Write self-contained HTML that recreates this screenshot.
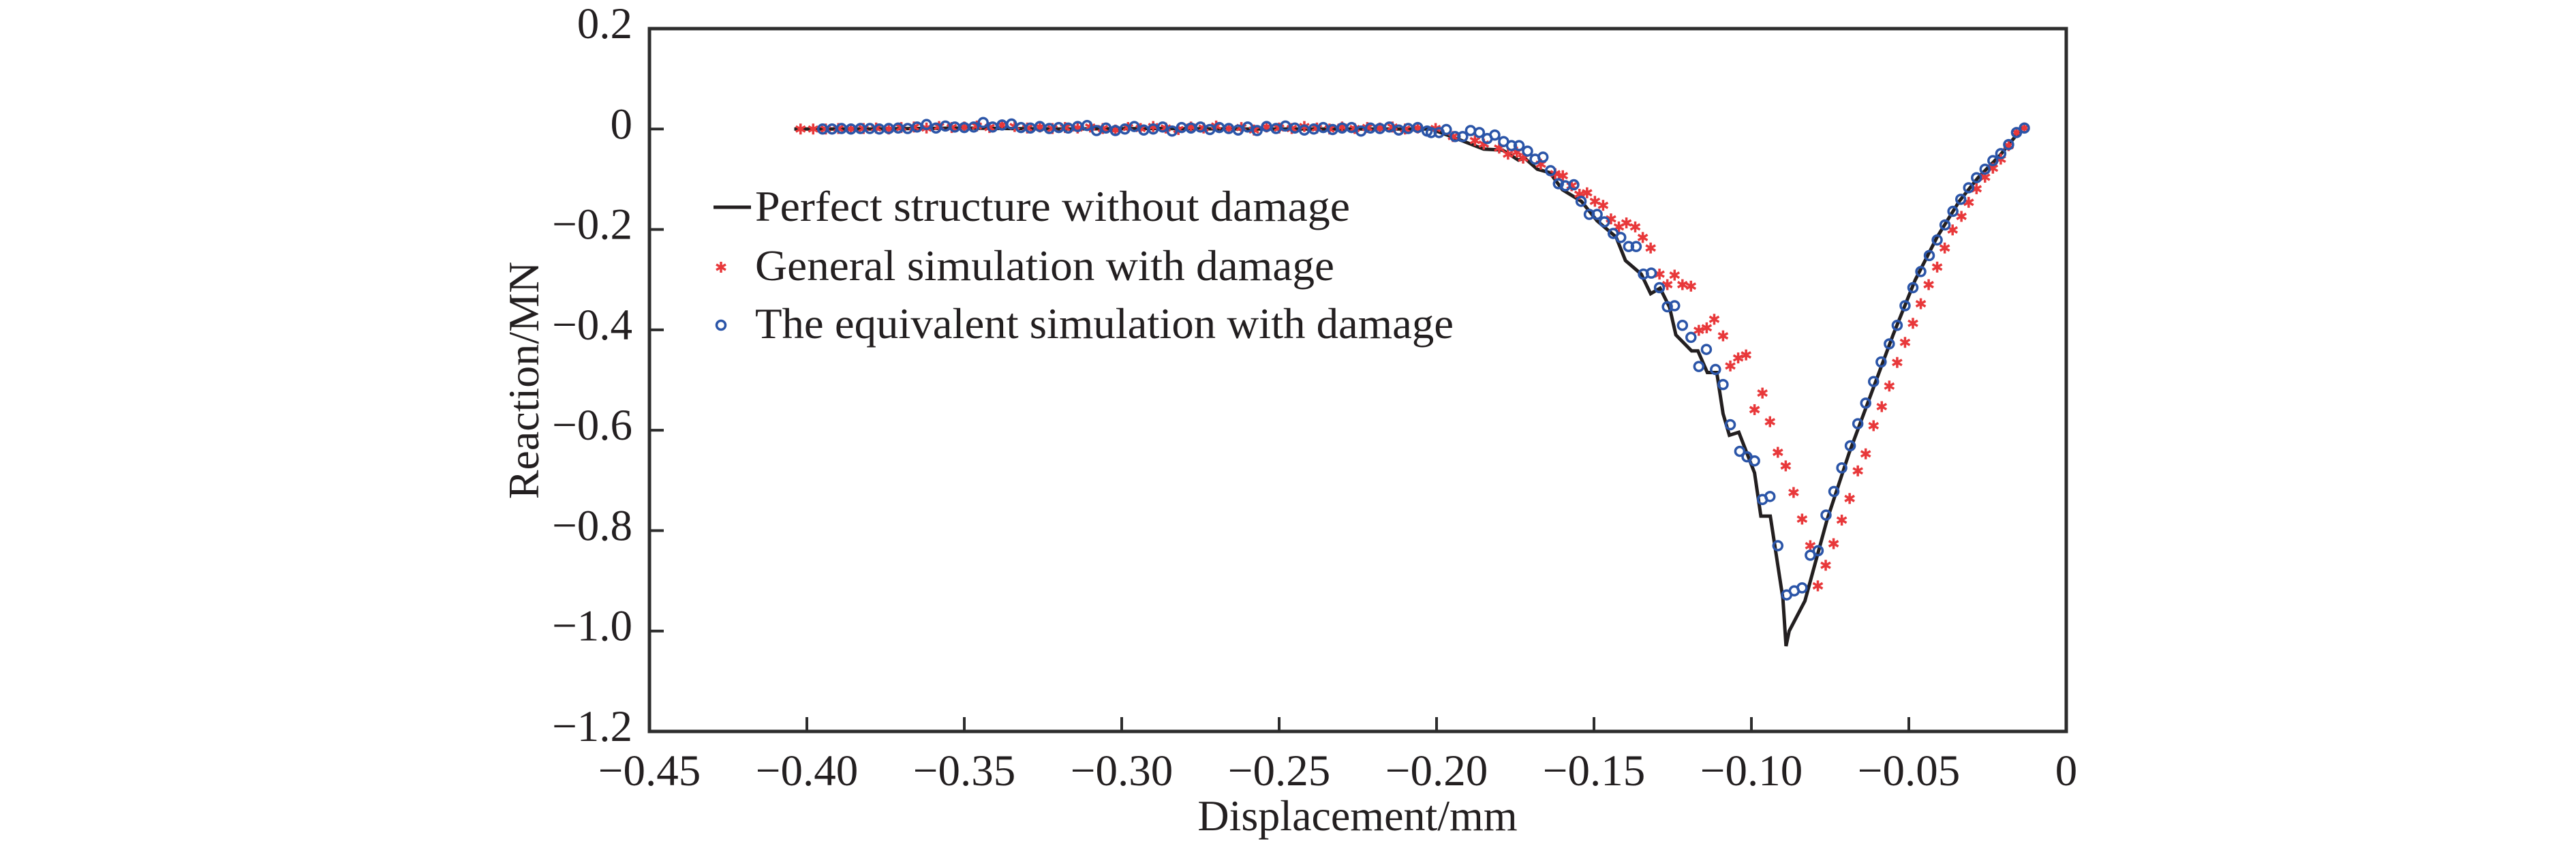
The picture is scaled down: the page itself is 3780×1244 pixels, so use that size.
<!DOCTYPE html>
<html><head><meta charset="utf-8">
<style>
html,body{margin:0;padding:0;background:#fff;}
svg{display:block;}
text{font-family:"Liberation Serif",serif;fill:#231f20;}
</style></head>
<body>
<svg id="chart" width="3780" height="1244" viewBox="0 0 3780 1244" xmlns="http://www.w3.org/2000/svg">
<g id="axes"></g>
<g id="series"></g>
<g id="legend">
  <line x1="1047" y1="304" x2="1102" y2="304" stroke="#231f20" stroke-width="5"/>
  <text x="1108" y="324" font-size="63" textLength="873" lengthAdjust="spacingAndGlyphs">Perfect structure without damage</text>
  <text x="1108" y="411" font-size="63" textLength="850" lengthAdjust="spacingAndGlyphs">General simulation with damage</text>
  <text x="1108" y="496" font-size="63" textLength="1025" lengthAdjust="spacingAndGlyphs">The equivalent simulation with damage</text>
</g>
<text x="1992" y="1218" font-size="64" text-anchor="middle">Displacement/mm</text>
<text transform="translate(790,558) rotate(-90)" font-size="64" text-anchor="middle">Reaction/MN</text>
</svg>
<script>
const xTicks = [-0.45,-0.40,-0.35,-0.30,-0.25,-0.20,-0.15,-0.10,-0.05,0];
const xTickLabels = ["\u22120.45","\u22120.40","\u22120.35","\u22120.30","\u22120.25","\u22120.20","\u22120.15","\u22120.10","\u22120.05","0"];
const yTicks = [0.2,0,-0.2,-0.4,-0.6,-0.8,-1.0,-1.2];
const yTickLabels = ["0.2","0","\u22120.2","\u22120.4","\u22120.6","\u22120.8","\u22121.0","\u22121.2"];

const perfectX = [-0.404,-0.380,-0.350,-0.320,-0.290,-0.260,-0.230,-0.2017,-0.192,-0.185,-0.179,-0.174,-0.172,-0.168,-0.164,-0.160,-0.154,-0.149,-0.143,-0.140,-0.135,-0.132,-0.129,-0.126,-0.124,-0.119,-0.117,-0.114,-0.111,-0.109,-0.107,-0.104,-0.099,-0.097,-0.094,-0.090,-0.089,-0.088,-0.083,-0.076,-0.069,-0.062,-0.055,-0.048,-0.041,-0.034,-0.028,-0.021,-0.014];
const perfectY = [0,0,0.002,0,0.001,0,0,0,-0.023,-0.040,-0.042,-0.062,-0.058,-0.080,-0.087,-0.121,-0.144,-0.183,-0.215,-0.262,-0.289,-0.328,-0.317,-0.355,-0.410,-0.442,-0.442,-0.485,-0.485,-0.567,-0.610,-0.604,-0.685,-0.771,-0.771,-0.935,-1.030,-1.000,-0.940,-0.779,-0.646,-0.528,-0.410,-0.301,-0.215,-0.144,-0.097,-0.052,0.002];

const generalX = [-0.402,-0.398,-0.394,-0.390,-0.386,-0.382,-0.378,-0.374,-0.370,-0.366,-0.362,-0.358,-0.354,-0.350,-0.346,-0.342,-0.338,-0.334,-0.330,-0.326,-0.322,-0.318,-0.314,-0.310,-0.306,-0.302,-0.298,-0.294,-0.290,-0.286,-0.282,-0.278,-0.274,-0.270,-0.266,-0.262,-0.258,-0.254,-0.250,-0.246,-0.242,-0.238,-0.234,-0.230,-0.226,-0.222,-0.218,-0.214,-0.210,-0.206,
-0.2003,-0.1948,-0.1878,-0.1850,-0.1801,-0.1773,-0.1745,-0.1725,-0.1669,-0.1623,-0.1599,-0.1571,-0.1546,-0.1522,-0.1497,-0.1471,-0.1446,-0.1421,-0.1397,-0.1369,-0.1345,-0.1320,-0.1292,-0.1267,-0.1244,-0.1219,-0.1192,-0.1167,-0.1142,-0.1118,-0.1090,-0.1067,-0.1042,-0.1017,-0.0990,-0.0965,-0.0941,-0.0916,-0.0891,-0.0866,-0.0839,-0.0813,-0.0789,-0.0764,-0.0739,-0.0713,-0.0688,-0.0662,-0.0637,-0.0612,-0.0586,-0.0562,-0.0537,-0.0512,-0.0487,-0.0462,-0.0437,-0.0410,-0.0386,-0.0361,-0.0333,-0.0310,-0.0285,-0.0258,-0.0233,-0.0208,-0.0183,-0.0158,-0.0133];
const generalY = [0,0,0,0.001,0,0.001,0.002,0,0.003,0.004,0.002,0.005,0.003,0.004,0.006,0.003,0.008,0.005,0.002,0.004,0.001,0.003,0.002,0.004,0.001,-0.002,0.003,0.001,0.005,0.002,-0.001,0.004,0.002,0.006,0.001,0.003,-0.002,0.004,0.002,0.001,0.005,0.002,0,0.004,0.001,0.003,0.002,0.004,0,0.002,
0.001,-0.015,-0.023,-0.030,-0.038,-0.050,-0.046,-0.058,-0.070,-0.089,-0.093,-0.113,-0.130,-0.127,-0.144,-0.152,-0.179,-0.195,-0.187,-0.195,-0.216,-0.237,-0.289,-0.310,-0.291,-0.310,-0.313,-0.401,-0.396,-0.379,-0.412,-0.472,-0.456,-0.450,-0.559,-0.526,-0.583,-0.644,-0.671,-0.724,-0.777,-0.830,-0.910,-0.869,-0.826,-0.779,-0.736,-0.681,-0.647,-0.591,-0.553,-0.512,-0.465,-0.425,-0.387,-0.348,-0.310,-0.275,-0.237,-0.201,-0.174,-0.146,-0.119,-0.096,-0.078,-0.060,-0.033,-0.007,0.002];

const equivX = [-0.395,-0.392,-0.389,-0.386,-0.383,-0.380,-0.377,-0.374,-0.371,-0.368,-0.365,-0.362,-0.359,-0.356,-0.353,-0.350,-0.347,-0.344,-0.341,-0.338,-0.335,-0.332,-0.329,-0.326,-0.323,-0.320,-0.317,-0.314,-0.311,-0.308,-0.305,-0.302,-0.299,-0.296,-0.293,-0.290,-0.287,-0.284,-0.281,-0.278,-0.275,-0.272,-0.269,-0.266,-0.263,-0.260,-0.257,-0.254,-0.251,-0.248,-0.245,-0.242,-0.239,-0.236,-0.233,-0.230,-0.227,-0.224,-0.221,-0.218,-0.215,-0.212,-0.209,-0.206,-0.203,
-0.2017,-0.1992,-0.1969,-0.1941,-0.1917,-0.1892,-0.1864,-0.1839,-0.1815,-0.1787,-0.1762,-0.1738,-0.1711,-0.1687,-0.1662,-0.1638,-0.1613,-0.1591,-0.1564,-0.1541,-0.1515,-0.1490,-0.1467,-0.1439,-0.1415,-0.1390,-0.1366,-0.1343,-0.1318,-0.1292,-0.1267,-0.1244,-0.1219,-0.1192,-0.1167,-0.1143,-0.1114,-0.1090,-0.1067,-0.1037,-0.1014,-0.0990,-0.0965,-0.0941,-0.0916,-0.0888,-0.0864,-0.0839,-0.0813,-0.0788,-0.0763,-0.0738,-0.0713,-0.0686,-0.0662,-0.0637,-0.0612,-0.0588,-0.0562,-0.0537,-0.0512,-0.0487,-0.0462,-0.0435,-0.0410,-0.0385,-0.0360,-0.0335,-0.0310,-0.0285,-0.0258,-0.0233,-0.0208,-0.0183,-0.0158,-0.0133];
const equivY = [0,0,0.001,0,0.001,0.001,0,0.001,0.002,0.001,0.004,0.009,0.002,0.006,0.004,0.003,0.004,0.013,0.004,0.008,0.010,0.003,0.002,0.005,0.001,0.003,0.002,0.005,0.007,-0.003,0.002,-0.003,0,0.005,-0.002,0,0.004,-0.004,0.003,0.002,0.004,-0.001,0.003,0.001,-0.002,0.004,-0.003,0.005,0.001,0.006,0.002,-0.002,0,0.003,-0.001,0.002,0.003,-0.004,0.002,0.001,0.004,-0.002,0.001,0.003,-0.004,
-0.007,-0.007,-0.001,-0.015,-0.015,-0.003,-0.007,-0.019,-0.012,-0.025,-0.033,-0.033,-0.044,-0.060,-0.056,-0.083,-0.109,-0.113,-0.111,-0.144,-0.170,-0.170,-0.185,-0.208,-0.216,-0.234,-0.234,-0.289,-0.287,-0.316,-0.354,-0.352,-0.391,-0.415,-0.473,-0.439,-0.479,-0.509,-0.589,-0.642,-0.653,-0.661,-0.738,-0.732,-0.830,-0.928,-0.920,-0.914,-0.849,-0.840,-0.769,-0.722,-0.675,-0.631,-0.587,-0.546,-0.503,-0.464,-0.428,-0.391,-0.352,-0.316,-0.284,-0.252,-0.221,-0.191,-0.164,-0.140,-0.117,-0.097,-0.080,-0.063,-0.049,-0.031,-0.007,0.002];

const NS = "http://www.w3.org/2000/svg";
const L = 953, R = 3032, T = 42, B = 1073;
const xMin = -0.45, xMax = 0, yMin = -1.2, yMax = 0.2;
function sx(v){ return L + (v - xMin) / (xMax - xMin) * (R - L); }
function sy(v){ return B - (v - yMin) / (yMax - yMin) * (B - T); }
function mk(tag, attrs, parent){ const e = document.createElementNS(NS, tag); for (const k in attrs) e.setAttribute(k, attrs[k]); parent.appendChild(e); return e; }

const axes = document.getElementById('axes');
const frame = mk('rect', {x:L, y:T, width:R-L, height:B-T, fill:'none', stroke:'#2d2d2d', 'stroke-width':5}, axes);


xTicks.forEach((v, i) => {
  const t = mk('line', {x1:sx(v), x2:sx(v), y1:B, y2:B-21, stroke:'#2d2d2d', 'stroke-width':4}, axes);
  
  
  const lb = mk('text', {x:sx(v), y:B+79, 'font-size':65, 'text-anchor':'middle'}, axes);
  lb.textContent = xTickLabels[i];
  
  
});
yTicks.forEach((v, i) => {
  const t = mk('line', {x1:L, x2:L+21, y1:sy(v), y2:sy(v), stroke:'#2d2d2d', 'stroke-width':4}, axes);
  
  
  const lb = mk('text', {x:928, y:sy(v)+14, 'font-size':65, 'text-anchor':'end'}, axes);
  lb.textContent = yTickLabels[i];
  
  
});

const series = document.getElementById('series');
const line = mk('polyline', {points: perfectX.map((x,i)=>sx(x)+','+sy(perfectY[i])).join(' '), fill:'none', stroke:'#231f20', 'stroke-width':5, 'stroke-linejoin':'miter'}, series);



function star(cx, cy, parent){
  const g = mk('g', {stroke:'#e8383a', 'stroke-width':3.5}, parent);
  const r = 8;
  mk('line', {x1:cx, y1:cy-r, x2:cx, y2:cy+r}, g);
  mk('line', {x1:cx-r*0.87, y1:cy-r*0.5, x2:cx+r*0.87, y2:cy+r*0.5}, g);
  mk('line', {x1:cx-r*0.87, y1:cy+r*0.5, x2:cx+r*0.87, y2:cy-r*0.5}, g);
  return g;
}
generalX.forEach((x, i) => {
  const g = star(sx(x), sy(generalY[i]), series);
  
  
});
equivX.forEach((x, i) => {
  const c = mk('circle', {cx:sx(x), cy:sy(equivY[i]), r:6.5, fill:'none', stroke:'#2b55a8', 'stroke-width':3.5}, series);
  
  
});

const legend = document.getElementById('legend');
const ls = star(1058, 392, legend);


const lc = mk('circle', {cx:1058, cy:477, r:6.5, fill:'none', stroke:'#2b55a8', 'stroke-width':3.5}, legend);


</script>
</body></html>
